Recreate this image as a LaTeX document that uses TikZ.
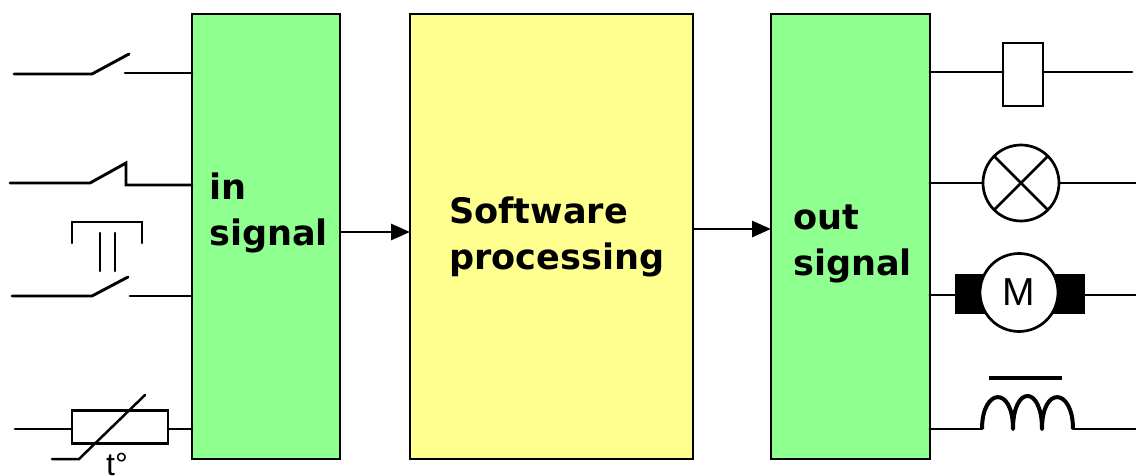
\documentclass[tikz,border=0pt]{standalone}
\usepackage{fontspec}
\setmainfont{DejaVu Sans}
\newfontfamily\symfont{Liberation Sans}
\usetikzlibrary{arrows.meta}
\definecolor{boxgreen}{HTML}{8FFF8F}
\definecolor{boxyellow}{HTML}{FFFF8F}
\tikzset{
  blockbox/.style={draw=black,line width=2.7pt,inner sep=0pt,outer sep=0pt,minimum height=445pt},
  blocktext/.style={font=\fontsize{35.1}{46}\selectfont\bfseries,align=left,inner sep=0pt,anchor=west,text=black},
  wire/.style={draw=black,line width=2.9pt,line cap=round,line join=miter},
  thinwire/.style={draw=black,line width=2.5pt,line cap=round},
  flow/.style={draw=black,line width=2.9pt,-{Triangle[length=19pt,width=16pt]}},
  part/.style={draw=black,line width=2.7pt,fill=white,inner sep=0pt,outer sep=0pt},
  disc/.style={circle,draw=black,line width=2.7pt,fill=white,inner sep=0pt,outer sep=0pt}
}
\begin{document}
\begin{tikzpicture}[x=1pt,y=-1pt]
\useasboundingbox (0,0) rectangle (1136,476);
\fill[white] (0,0) rectangle (1136,476);
% main blocks
\node[blockbox,fill=boxgreen,minimum width=148pt] (insig) at (266,236.5) {};
\node[blockbox,fill=boxyellow,minimum width=283pt] (soft) at (551.5,236.5) {};
\node[blockbox,fill=boxgreen,minimum width=159pt] (outsig) at (850.5,236.5) {};
\node[blocktext] (intext) at (209,213) {in\\signal};
\node[blocktext] (softtext) at (449,237) {Software\\processing};
\node[blocktext] (outtext) at (793,244) {out\\signal};
% flow arrows
\draw[flow] (insig.east |- 0,232) -- (soft.west |- 0,232);
\draw[flow] (soft.east |- 0,229) -- (outsig.west |- 0,229);
% switch 1
\coordinate (a1) at (14,74); \coordinate (a2) at (92,74); \coordinate (a3) at (129,54);
\coordinate (a4) at (125,73);
\draw[wire] (a1) -- (a2) -- (a3);
\draw[wire] (a4) -- (insig.west |- a4);
% switch 2
\coordinate (b1) at (10,183); \coordinate (b2) at (90,183); \coordinate (b3) at (126,163);
\coordinate (b4) at (126,185);
\draw[wire] (b1) -- (b2) -- (b3) -- (b4) -- (insig.west |- b4);
% pushbutton
\coordinate (c1) at (72,243); \coordinate (c2) at (72,222); \coordinate (c3) at (142,222); \coordinate (c4) at (142,243);
\draw[thinwire] (c1) -- (c2) -- (c3) -- (c4);
\coordinate (c5) at (100,233); \coordinate (c6) at (100,271);
\coordinate (c7) at (115,233); \coordinate (c8) at (115,271);
\draw[thinwire] (c5) -- (c6);
\draw[thinwire] (c7) -- (c8);
\coordinate (d1) at (12,296); \coordinate (d2) at (92,296); \coordinate (d3) at (128,277);
\coordinate (d4) at (130,296);
\draw[wire] (d1) -- (d2) -- (d3);
\draw[wire] (d4) -- (insig.west |- d4);
% thermistor
\node[part,minimum width=96pt,minimum height=33pt] (therm) at (120,427) {};
\coordinate (e1) at (15,429);
\draw[wire] (e1) -- (therm.west |- e1);
\draw[wire] (therm.east |- e1) -- (insig.west |- e1);
\coordinate (e2) at (52,459); \coordinate (e3) at (79,459); \coordinate (e4) at (145,395);
\draw[thinwire] (e2) -- (e3) -- (e4);
\node[font=\symfont\fontsize{32}{32}\selectfont,inner sep=0pt,anchor=base] (tlabel) at (117,475.5) {t°};
% relay coil
\node[part,minimum width=40pt,minimum height=63pt] (relay) at (1023,74.5) {};
\coordinate (f1) at (1132,72);
\draw[wire] (outsig.east |- f1) -- (relay.west |- f1);
\draw[wire] (relay.east |- f1) -- (f1);
% lamp
\node[disc,minimum size=76pt] (lamp) at (1021,183) {};
\draw[thinwire] (lamp.45) -- (lamp.225);
\draw[thinwire] (lamp.135) -- (lamp.315);
\coordinate (g1) at (1136,183);
\draw[wire] (outsig.east |- g1) -- (lamp.west);
\draw[wire] (lamp.east) -- (g1);
% motor
\coordinate (h1) at (1136,295);
\node[fill=black,inner sep=0pt,outer sep=0pt,minimum width=130pt,minimum height=40pt] (stator) at (1020,294) {};
\draw[wire] (outsig.east |- h1) -- (stator.west |- h1);
\draw[wire] (stator.east |- h1) -- (h1);
\node[disc,minimum size=78pt,font=\symfont\fontsize{39}{39}\selectfont] (motor) at (1019,292.5) {M};
% inductor
\coordinate (i1) at (982,429); \coordinate (i2) at (1013,429); \coordinate (i3) at (1042,429); \coordinate (i4) at (1073,429);
\coordinate (i5) at (1136,429); \coordinate (i6) at (989,378); \coordinate (i7) at (1062,378);
\draw[draw=black,line width=4.5pt] (i6) -- (i7);
\draw[wire] (outsig.east |- i1) -- (i1);
\draw[wire] (i4) -- (i5);
\draw[draw=black,line width=4pt,line join=round]
  (i1) .. controls (982,388) and (1013,385) .. (i2)
       .. controls (1013,385) and (1042,385) .. (i3)
       .. controls (1042,385) and (1073,388) .. (i4);
\end{tikzpicture}
\end{document}
